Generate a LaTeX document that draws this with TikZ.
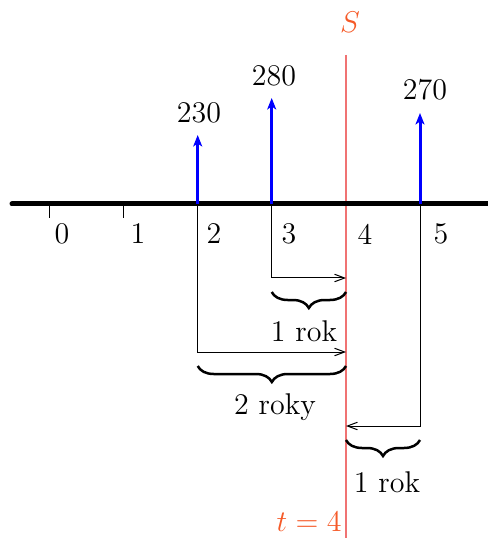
\documentclass[tikz,border=0pt]{standalone}
\usetikzlibrary{decorations.pathreplacing,arrows.meta}
\definecolor{sline}{RGB}{240,115,115}
\definecolor{stext}{RGB}{245,90,40}
\begin{document}
\begin{tikzpicture}[x=0.4pt,y=-0.4pt,
  font=\fontsize{12}{14}\selectfont,
  axisline/.style={line width=2pt,line cap=round},
  tickline/.style={line width=0.4pt},
  cash/.style={blue,line width=1.2pt,-{Stealth[length=4.6pt,width=3.6pt,inset=1.2pt]}},
  moveline/.style={line width=0.4pt,-{Straight Barb[length=4pt,width=3pt]}},
  bracebar/.style={decorate,decoration={brace,mirror,amplitude=6.4pt},line width=1pt},
  lbl/.style={inner sep=0pt}]
\useasboundingbox (0,0) rectangle (487,538);
% axis points
\coordinate (t0) at (49,204);
\coordinate (t1) at (123.5,204);
\coordinate (t2) at (197.7,204);
\coordinate (t3) at (271.7,204);
\coordinate (t4) at (346,204);
\coordinate (t5) at (420,204);
\coordinate (axL) at (12,204);
\coordinate (axR) at (492,204);
% red line S
\coordinate (sTop) at (346,55);
\coordinate (sBot) at (346,540);
\draw[sline,line width=0.5pt] (sTop) -- (sBot);
\node[lbl,text=stext] (sLab) at (350,22) {$S$};
\node[lbl,text=stext,anchor=east] (tLab) at (342,522) {$t=4$};
% shift lines
\coordinate (c3) at (271.7,278);
\coordinate (e3) at (346,278);
\coordinate (c2) at (197.7,352);
\coordinate (e2) at (346,352);
\coordinate (c5) at (420,426);
\coordinate (e5) at (346,426);
\draw[moveline] (t3) -- (c3) -- (e3);
\draw[moveline] (t2) -- (c2) -- (e2);
\draw[moveline] (t5) -- (c5) -- (e5);
% ticks
\draw[tickline] (t0) -- ++(0,14);
\draw[tickline] (t1) -- ++(0,14);
% axis
\draw[axisline] (axL) -- (axR);
% tick labels
\node[lbl] (n0) at (62,234) {0};
\node[lbl] (n1) at (138,234) {1};
\node[lbl] (n2) at (214,234) {2};
\node[lbl] (n3) at (289,234) {3};
\node[lbl] (n4) at (365,234) {4};
\node[lbl] (n5) at (441,234) {5};
% cash flows
\coordinate (h2) at (197.7,135);
\coordinate (h3) at (271.7,98);
\coordinate (h5) at (420,113);
\draw[cash] (t2) -- (h2);
\draw[cash] (t3) -- (h3);
\draw[cash] (t5) -- (h5);
\node[lbl] (v230) at (199,113) {230};
\node[lbl] (v280) at (274,76) {280};
\node[lbl] (v270) at (425,90) {270};
% braces
\coordinate (b3a) at (271.7,292);
\coordinate (b3b) at (346,292);
\coordinate (b2a) at (197.7,366);
\coordinate (b2b) at (346,366);
\coordinate (b5a) at (346,440);
\coordinate (b5b) at (420,440);
\draw[bracebar] (b3a) -- (b3b);
\draw[bracebar] (b2a) -- (b2b);
\draw[bracebar] (b5a) -- (b5b);
\node[lbl] (r1) at (304,331) {1 rok};
\node[lbl] (r2) at (275,407) {2 roky};
\node[lbl] (r3) at (387,482) {1 rok};
\end{tikzpicture}
\end{document}
